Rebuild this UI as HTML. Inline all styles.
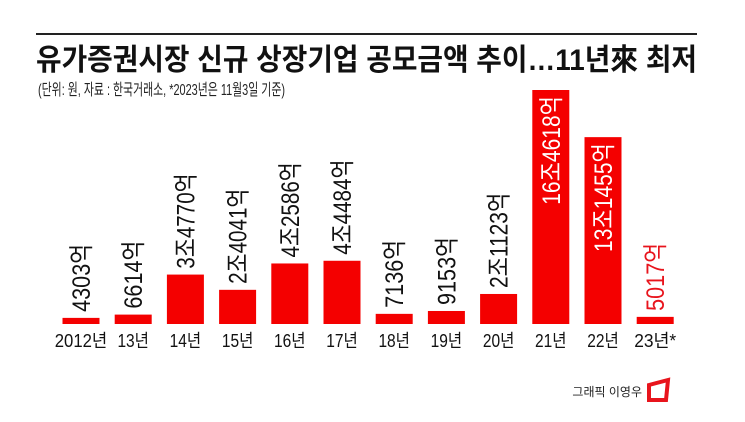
<!DOCTYPE html>
<html><head><meta charset="utf-8"><style>
body{margin:0;background:#fff;}
svg{display:block;font-family:"Liberation Sans","Noto Sans CJK KR",sans-serif;}
</style></head><body>
<svg width="745" height="422" viewBox="0 0 745 422">
<line x1="36" y1="34" x2="697" y2="34" stroke="#222" stroke-width="2"/>
<text x="36" y="70" font-size="30" font-weight="bold" fill="#111" textLength="661" lengthAdjust="spacingAndGlyphs">유가증권시장 신규 상장기업 공모금액 추이…11년來 최저</text>
<text x="38" y="95" font-size="16" fill="#222" textLength="247" lengthAdjust="spacingAndGlyphs">(단위: 원, 자료 : 한국거래소, *2023년은 11월3일 기준)</text>
<g id="bars"></g>
<text x="642" y="396" font-size="12" fill="#222" text-anchor="end">그래픽 이영우</text>
<path d="M649 385 L668 380 L666 400 L649 400 Z" fill="none" stroke="#e8141c" stroke-width="4"/>
</svg>
<script>
const categories=["2012년","13년","14년","15년","16년","17년","18년","19년","20년","21년","22년","23년*"];
const values=[4303,6614,34770,24041,42586,44484,7136,9153,21123,164618,131455,5017];
const valueLabels=["4303억","6614억","3조4770억","2조4041억","4조2586억","4조4484억","7136억","9153억","2조1123억","16조4618억","13조1455억","5017억"];
const NS="http://www.w3.org/2000/svg";
const g=document.getElementById("bars");
const base=324, x0=81, step=52.2, bw=37, scale=234/164618;
const xPos=i=>x0+i*step;
const yPos=v=>base-v*scale;
function mk(tag,attrs,txt){const e=document.createElementNS(NS,tag);for(const k in attrs)e.setAttribute(k,attrs[k]);if(txt!==undefined)e.textContent=txt;g.appendChild(e);return e;}
categories.forEach((c,i)=>{
  const cx=xPos(i), top=Math.min(yPos(values[i]),base-5);
  const r=mk("rect",{x:cx-bw/2,y:top,width:bw,height:base-top,fill:"#f40000"});
  
  
  const t=mk("text",{x:cx,y:347,"font-size":18,"text-anchor":"middle",fill:"#111",textLength:c.length*10.5,lengthAdjust:"spacingAndGlyphs"},c);
  
  
  const lab=valueLabels[i], len=lab.length*13.6;
  const inside=(i===9||i===10);
  let ly, col;
  if(inside){ly=top+6+len;col="#fff";}else{ly=top-6;col=(i===11)?"#e8141c":"#111";}
  const v=mk("text",{x:0,y:0,"font-size":25,fill:col,textLength:len,lengthAdjust:"spacingAndGlyphs",transform:`translate(${cx+9},${ly}) rotate(-90)`},lab);
  
  
});
</script>
</body></html>
